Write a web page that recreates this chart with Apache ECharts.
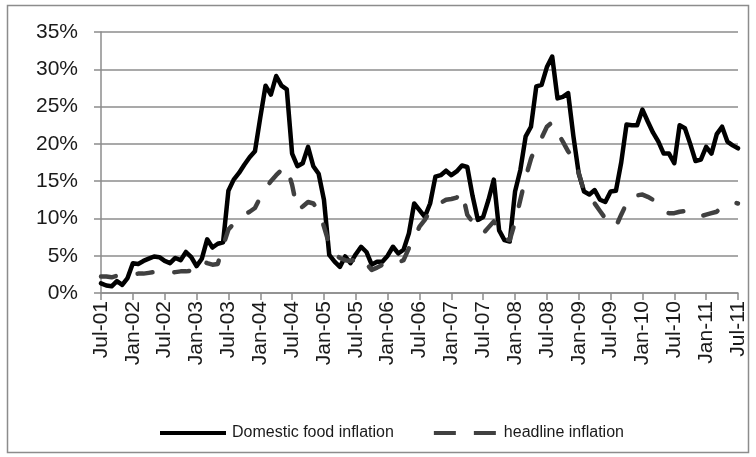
<!DOCTYPE html>
<html>
<head>
<meta charset="utf-8">
<script src="https://cdn.jsdelivr.net/npm/echarts@6/dist/echarts.min.js"></script>
<style>
  html, body { margin: 0; padding: 0; background: #fff; }
  #chart { width: 756px; height: 457px; }
</style>
</head>
<body>
<div id="chart"></div>
<script>
// months Jul-01 .. Jul-11 (121 monthly points)
const monthNames = ['Jan', 'Feb', 'Mar', 'Apr', 'May', 'Jun', 'Jul', 'Aug', 'Sep', 'Oct', 'Nov', 'Dec']
const months = []
for (let k = 0; k <= 120; k++) {
  const m = (6 + k) % 12
  const y = 1 + Math.floor((6 + k) / 12)
  months.push(monthNames[m] + '-' + String(y).padStart(2, '0'))
}

// Domestic food inflation, %
const foodInflation = [
  1.3, 1.0, 0.9, 1.6, 1.1, 2.0, 4.0, 3.9, 4.3, 4.6, 4.9, 4.8,
  4.3, 4.0, 4.7, 4.4, 5.5, 4.8, 3.6, 4.6, 7.2, 6.1, 6.6, 6.8,
  13.7, 15.2, 16.1, 17.2, 18.2, 19.0, 23.5, 27.8, 26.6, 29.1, 27.8, 27.3,
  18.7, 17.0, 17.4, 19.6, 17.0, 16.0, 12.5, 5.1, 4.2, 3.5, 4.9, 4.0,
  5.2, 6.2, 5.5, 3.8, 4.2, 4.2, 5.0, 6.2, 5.3, 5.8, 8.0, 12.0,
  11.1, 10.2, 12.0, 15.6, 15.8, 16.4, 15.8, 16.3, 17.1, 16.9, 13.0, 9.8,
  10.2, 12.5, 15.2, 8.4, 7.1, 6.9, 13.6, 16.5, 21.0, 22.3, 27.7, 27.9,
  30.3, 31.7, 26.1, 26.3, 26.8, 21.0, 16.0, 13.6, 13.2, 13.8, 12.5, 12.2,
  13.6, 13.7, 17.5, 22.6, 22.5, 22.5, 24.6, 23.0, 21.5, 20.3, 18.7, 18.7,
  17.4, 22.5, 22.1, 20.0, 17.7, 17.9, 19.6, 18.7, 21.3, 22.3, 20.3, 19.8,
  19.4
]

// headline inflation, %
const headlineInflation = [
  2.2, 2.2, 2.1, 2.3, 2.4, 2.4, 2.5, 2.6, 2.6, 2.7, 2.8, 2.9,
  2.8, 2.7, 2.8, 2.9, 2.9, 3.0, 3.3, 4.3, 4.0, 3.8, 3.9, 6.3,
  8.5, 9.3, 10.0, 10.5, 10.9, 11.4, 12.8, 14.0, 15.0, 15.8, 16.5, 16.9,
  14.5, 11.1, 11.6, 12.2, 12.0, 11.1, 8.9, 6.5, 5.2, 4.7, 4.4, 4.3,
  4.5, 4.9, 3.9, 3.1, 3.4, 3.8, 3.8, 3.6, 4.1, 4.4, 6.0, 7.4,
  8.9, 9.8, 11.0, 11.6, 12.1, 12.5, 12.6, 12.8, 13.6, 10.5, 9.5, 8.5,
  8.0, 8.8, 9.6, 8.5, 7.3, 7.1, 9.5, 12.5, 15.5, 18.0, 19.8, 20.8,
  22.3, 22.9, 21.5, 20.3, 19.0, 18.2, 16.1, 13.6, 12.7, 12.0, 11.0, 10.0,
  9.8, 8.9, 10.5, 12.0, 13.1, 13.1, 13.2, 12.9, 12.5, 11.6, 10.9, 10.7,
  10.7, 10.9, 11.0, 10.8, 10.2, 10.3, 10.5, 10.7, 10.9, 11.6, 12.0, 12.2,
  12.0
]

const yTicks = [0, 5, 10, 15, 20, 25, 30, 35]

const chart = echarts.init(document.getElementById('chart'), null, { renderer: 'canvas' })
const option = {
  animation: false,
  backgroundColor: '#fff',
  graphic: [{
    type: 'rect',
    shape: { x: 7.5, y: 5.5, width: 741, height: 447 },
    style: { fill: 'none', stroke: '#8c8c8c', lineWidth: 1.5 },
    silent: true
  }],
  grid: { left: 101, right: 18, top: 32, bottom: 164 },
  legend: {
    left: 155,
    top: 420,
    itemWidth: 66,
    itemHeight: 4,
    itemGap: 40,
    textStyle: { fontFamily: 'Liberation Sans', fontSize: 16, color: '#1a1a1a', padding: [0, 0, 0, 1] },
    data: [
      { name: 'Domestic food inflation', icon: 'path://M0,0H66V4H0Z' },
      { name: 'headline inflation', icon: 'path://M0,0H22V4H0Z M40,0H62V4H40Z' }
    ]
  },
  xAxis: {
    type: 'category',
    data: months,
    boundaryGap: false,
    axisLine: { lineStyle: { color: '#8c8c8c', width: 1.5 } },
    axisTick: { interval: 5, length: 7, lineStyle: { color: '#8c8c8c', width: 1.5 } },
    axisLabel: {
      interval: 5,
      rotate: 90,
      margin: 8,
      fontFamily: 'Liberation Sans',
      fontSize: 21,
      color: '#1a1a1a'
    },
    splitLine: { show: false }
  },
  yAxis: {
    type: 'value',
    min: yTicks[0],
    max: yTicks[yTicks.length - 1],
    interval: 5,
    axisLine: { show: true, lineStyle: { color: '#8c8c8c', width: 1.5 } },
    axisTick: { show: true, length: 7, lineStyle: { color: '#8c8c8c', width: 1.5 } },
    axisLabel: {
      margin: 23,
      fontFamily: 'Liberation Sans',
      fontSize: 21,
      color: '#1a1a1a',
      formatter: '{value}%'
    },
    splitLine: { lineStyle: { color: '#8c8c8c', width: 1.5 } }
  },
  series: [
    {
      name: 'Domestic food inflation',
      type: 'line',
      data: foodInflation,
      symbol: 'none',
      itemStyle: { color: '#000' },
      lineStyle: { color: '#000', width: 4.5, join: 'round', cap: 'round' }
    },
    {
      name: 'headline inflation',
      type: 'line',
      data: headlineInflation,
      symbol: 'none',
      itemStyle: { color: '#404040' },
      lineStyle: { color: '#404040', width: 4.5, type: [15, 22], cap: 'round', join: 'round' }
    }
  ]
}
chart.setOption(option)
</script>
</body>
</html>
